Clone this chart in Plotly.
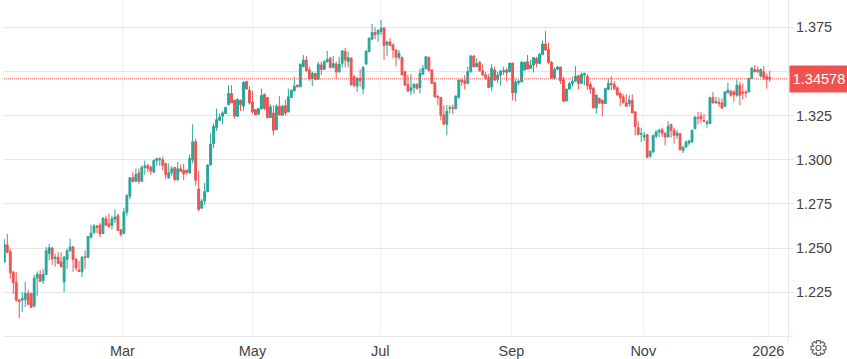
import math
import plotly.graph_objects as go

opens = [
1.2421,1.2519,1.2480,1.2364,1.2307,1.2206,1.2206,1.2210,1.2244,1.2244,
1.2174,1.2330,1.2351,1.2316,1.2351,1.2470,1.2502,1.2441,1.2449,1.2422,
1.2309,1.2436,1.2485,1.2507,1.2439,1.2377,1.2368,1.2451,1.2447,1.2561,
1.2587,1.2625,1.2630,1.2583,1.2666,1.2638,1.2629,1.2664,1.2684,1.2604,
1.2583,1.2703,1.2794,1.2899,1.2878,1.2926,1.2878,1.2957,1.2966,1.2958,
1.2930,1.2996,1.3000,1.3000,1.2979,1.2897,1.2926,1.2957,1.2888,1.2949,
1.2941,1.2941,1.2926,1.2998,1.3102,1.2835,1.2726,1.2767,1.2820,1.2971,
1.3091,1.3182,1.3223,1.3246,1.3261,1.3311,1.3375,1.3337,1.3246,1.3337,
1.3303,1.3443,1.3394,1.3326,1.3284,1.3258,1.3288,1.3371,1.3352,1.3239,
1.3265,1.3170,1.3303,1.3252,1.3307,1.3271,1.3352,1.3390,1.3422,1.3413,
1.3527,1.3564,1.3508,1.3460,1.3489,1.3455,1.3536,1.3511,1.3555,1.3574,
1.3523,1.3542,1.3498,1.3545,1.3612,1.3555,1.3576,1.3470,1.3417,1.3460,
1.3402,1.3542,1.3612,1.3682,1.3720,1.3712,1.3725,1.3746,1.3650,1.3667,
1.3650,1.3621,1.3580,1.3580,1.3498,1.3428,1.3390,1.3409,1.3428,1.3409,
1.3485,1.3515,1.3580,1.3508,1.3436,1.3360,1.3352,1.3254,1.3201,1.3292,
1.3295,1.3290,1.3352,1.3451,1.3447,1.3432,1.3498,1.3587,1.3527,1.3551,
1.3504,1.3479,1.3466,1.3413,1.3508,1.3455,1.3479,1.3498,1.3508,1.3498,
1.3547,1.3379,1.3436,1.3441,1.3508,1.3555,1.3517,1.3536,1.3574,1.3545,
1.3595,1.3655,1.3625,1.3551,1.3462,1.3511,1.3525,1.3451,1.3333,1.3400,
1.3432,1.3445,1.3475,1.3432,1.3479,1.3473,1.3426,1.3403,1.3294,1.3347,
1.3337,1.3318,1.3398,1.3432,1.3428,1.3407,1.3375,1.3356,1.3322,1.3318,
1.3337,1.3271,1.3182,1.3144,1.3129,1.3142,1.3021,1.3044,1.3133,1.3157,
1.3170,1.3148,1.3129,1.3199,1.3167,1.3138,1.3148,1.3053,1.3072,1.3095,
1.3100,1.3176,1.3239,1.3246,1.3223,1.3205,1.3205,1.3352,1.3322,1.3326,
1.3322,1.3303,1.3379,1.3388,1.3384,1.3365,1.3422,1.3384,1.3384,1.3384,
1.3460,1.3511,1.3508,1.3473,1.3498,1.3470,1.3466]

highs = [
1.2553,1.2581,1.2497,1.2371,1.2364,1.2214,1.2250,1.2309,1.2263,1.2246,
1.2349,1.2368,1.2377,1.2381,1.2507,1.2524,1.2503,1.2468,1.2479,1.2476,
1.2456,1.2497,1.2553,1.2513,1.2442,1.2428,1.2456,1.2487,1.2568,1.2632,
1.2638,1.2632,1.2642,1.2674,1.2684,1.2695,1.2684,1.2718,1.2695,1.2608,
1.2727,1.2804,1.2901,1.2930,1.2951,1.2949,1.2968,1.2996,1.2979,1.2968,
1.3002,1.3011,1.3013,1.3017,1.2981,1.2979,1.2964,1.2958,1.2987,1.2975,
1.2979,1.2945,1.3030,1.3200,1.3119,1.2938,1.2779,1.2869,1.2975,1.3150,
1.3205,1.3290,1.3261,1.3275,1.3297,1.3422,1.3422,1.3339,1.3348,1.3341,
1.3443,1.3447,1.3417,1.3390,1.3286,1.3292,1.3403,1.3375,1.3354,1.3314,
1.3309,1.3314,1.3360,1.3309,1.3341,1.3403,1.3398,1.3470,1.3428,1.3545,
1.3593,1.3587,1.3527,1.3498,1.3491,1.3555,1.3555,1.3564,1.3616,1.3583,
1.3587,1.3555,1.3583,1.3621,1.3633,1.3612,1.3578,1.3479,1.3470,1.3511,
1.3530,1.3621,1.3691,1.3769,1.3750,1.3739,1.3792,1.3750,1.3674,1.3688,
1.3659,1.3625,1.3621,1.3582,1.3502,1.3479,1.3485,1.3432,1.3432,1.3517,
1.3536,1.3587,1.3583,1.3511,1.3441,1.3365,1.3356,1.3309,1.3309,1.3309,
1.3313,1.3365,1.3455,1.3456,1.3479,1.3527,1.3593,1.3593,1.3574,1.3560,
1.3541,1.3498,1.3485,1.3541,1.3527,1.3498,1.3508,1.3527,1.3521,1.3549,
1.3549,1.3455,1.3455,1.3557,1.3555,1.3593,1.3564,1.3583,1.3583,1.3602,
1.3674,1.3729,1.3663,1.3559,1.3521,1.3530,1.3527,1.3470,1.3403,1.3441,
1.3470,1.3530,1.3479,1.3493,1.3493,1.3485,1.3441,1.3413,1.3371,1.3352,
1.3341,1.3407,1.3460,1.3473,1.3445,1.3417,1.3385,1.3371,1.3371,1.3365,
1.3371,1.3276,1.3218,1.3182,1.3157,1.3144,1.3053,1.3142,1.3170,1.3176,
1.3182,1.3157,1.3218,1.3205,1.3182,1.3167,1.3152,1.3072,1.3110,1.3114,
1.3170,1.3246,1.3271,1.3271,1.3258,1.3223,1.3356,1.3384,1.3356,1.3352,
1.3347,1.3386,1.3436,1.3394,1.3394,1.3455,1.3441,1.3432,1.3394,1.3466,
1.3523,1.3536,1.3527,1.3517,1.3530,1.3489,1.3504]

lows = [
1.2417,1.2476,1.2328,1.2241,1.2197,1.2104,1.2140,1.2167,1.2178,1.2163,
1.2163,1.2229,1.2309,1.2297,1.2349,1.2430,1.2405,1.2396,1.2411,1.2390,
1.2252,1.2383,1.2481,1.2366,1.2370,1.2366,1.2337,1.2383,1.2445,1.2553,
1.2581,1.2585,1.2562,1.2581,1.2627,1.2615,1.2604,1.2642,1.2598,1.2566,
1.2581,1.2684,1.2777,1.2871,1.2874,1.2865,1.2876,1.2916,1.2930,1.2916,
1.2928,1.2964,1.2964,1.2941,1.2892,1.2894,1.2911,1.2878,1.2878,1.2930,
1.2884,1.2916,1.2922,1.2979,1.2854,1.2712,1.2722,1.2746,1.2816,1.2968,
1.3066,1.3163,1.3220,1.3201,1.3259,1.3309,1.3322,1.3233,1.3244,1.3275,
1.3277,1.3398,1.3313,1.3261,1.3252,1.3256,1.3284,1.3280,1.3233,1.3237,
1.3138,1.3169,1.3252,1.3250,1.3250,1.3269,1.3351,1.3386,1.3409,1.3411,
1.3523,1.3500,1.3447,1.3417,1.3451,1.3451,1.3479,1.3508,1.3549,1.3517,
1.3517,1.3458,1.3492,1.3523,1.3523,1.3523,1.3420,1.3409,1.3384,1.3413,
1.3371,1.3536,1.3608,1.3678,1.3682,1.3669,1.3706,1.3564,1.3587,1.3644,
1.3574,1.3527,1.3564,1.3477,1.3420,1.3384,1.3365,1.3371,1.3398,1.3375,
1.3479,1.3511,1.3502,1.3428,1.3352,1.3309,1.3223,1.3199,1.3138,1.3261,
1.3258,1.3284,1.3347,1.3417,1.3398,1.3428,1.3493,1.3523,1.3523,1.3498,
1.3474,1.3451,1.3405,1.3390,1.3447,1.3432,1.3419,1.3479,1.3445,1.3494,
1.3337,1.3331,1.3422,1.3437,1.3504,1.3511,1.3513,1.3493,1.3523,1.3541,
1.3591,1.3619,1.3540,1.3458,1.3451,1.3508,1.3428,1.3326,1.3330,1.3398,
1.3413,1.3441,1.3400,1.3428,1.3422,1.3394,1.3375,1.3290,1.3261,1.3314,
1.3246,1.3314,1.3394,1.3394,1.3394,1.3364,1.3303,1.3318,1.3299,1.3299,
1.3263,1.3138,1.3138,1.3100,1.3106,1.3009,1.3009,1.3040,1.3123,1.3129,
1.3129,1.3081,1.3125,1.3125,1.3091,1.3119,1.3053,1.3038,1.3068,1.3081,
1.3097,1.3172,1.3201,1.3205,1.3214,1.3182,1.3201,1.3318,1.3318,1.3299,
1.3288,1.3301,1.3375,1.3356,1.3328,1.3356,1.3309,1.3341,1.3352,1.3381,
1.3456,1.3494,1.3489,1.3466,1.3451,1.3402,1.3441]

closes = [
1.2519,1.2476,1.2362,1.2305,1.2206,1.2197,1.2216,1.2244,1.2182,1.2165,
1.2330,1.2352,1.2311,1.2352,1.2485,1.2502,1.2439,1.2449,1.2413,1.2396,
1.2449,1.2485,1.2507,1.2436,1.2388,1.2368,1.2449,1.2447,1.2566,1.2585,
1.2625,1.2617,1.2581,1.2670,1.2629,1.2621,1.2666,1.2676,1.2600,1.2577,
1.2705,1.2798,1.2899,1.2878,1.2916,1.2878,1.2957,1.2966,1.2951,1.2936,
1.2996,1.3007,1.3006,1.2968,1.2916,1.2926,1.2949,1.2888,1.2949,1.2934,
1.2920,1.2928,1.3007,1.3102,1.2884,1.2718,1.2767,1.2820,1.2971,1.3089,
1.3189,1.3227,1.3242,1.3265,1.3297,1.3377,1.3322,1.3246,1.3341,1.3311,
1.3439,1.3400,1.3322,1.3271,1.3254,1.3290,1.3364,1.3290,1.3239,1.3299,
1.3167,1.3303,1.3254,1.3303,1.3265,1.3356,1.3394,1.3417,1.3413,1.3540,
1.3564,1.3504,1.3460,1.3489,1.3455,1.3540,1.3511,1.3555,1.3568,1.3523,
1.3545,1.3498,1.3542,1.3616,1.3564,1.3578,1.3424,1.3420,1.3460,1.3447,
1.3523,1.3614,1.3688,1.3720,1.3708,1.3731,1.3744,1.3646,1.3667,1.3646,
1.3621,1.3580,1.3602,1.3481,1.3422,1.3388,1.3407,1.3428,1.3403,1.3489,
1.3517,1.3583,1.3504,1.3432,1.3356,1.3352,1.3252,1.3201,1.3275,1.3295,
1.3290,1.3360,1.3451,1.3441,1.3432,1.3498,1.3587,1.3527,1.3545,1.3504,
1.3479,1.3466,1.3409,1.3517,1.3451,1.3479,1.3502,1.3504,1.3494,1.3547,
1.3379,1.3441,1.3445,1.3553,1.3551,1.3513,1.3536,1.3578,1.3545,1.3598,
1.3655,1.3621,1.3551,1.3462,1.3511,1.3525,1.3447,1.3331,1.3400,1.3432,
1.3445,1.3473,1.3432,1.3483,1.3489,1.3419,1.3400,1.3294,1.3365,1.3322,
1.3318,1.3403,1.3432,1.3426,1.3402,1.3367,1.3350,1.3322,1.3303,1.3337,
1.3265,1.3189,1.3144,1.3148,1.3138,1.3015,1.3047,1.3138,1.3157,1.3167,
1.3148,1.3129,1.3189,1.3167,1.3138,1.3152,1.3057,1.3072,1.3100,1.3106,
1.3167,1.3242,1.3235,1.3231,1.3218,1.3214,1.3352,1.3322,1.3328,1.3318,
1.3292,1.3384,1.3394,1.3365,1.3369,1.3422,1.3365,1.3379,1.3379,1.3460,
1.3519,1.3498,1.3498,1.3511,1.3466,1.3455,1.34578]

bar_index = list(range(len(closes)))
month_ticks = [39.5, 83, 125.7, 169.6, 213.7, 255.5]
month_labels = ["Mar", "May", "Jul", "Sep", "Nov", "2026"]
price_ticks = [1.225, 1.25, 1.275, 1.3, 1.325, 1.35, 1.375]
price_labels = ["1.225", "1.250", "1.275", "1.300", "1.325", "1.350", "1.375"]
last_price = closes[-1]

GREEN = "#26a69a"
RED = "#ef5350"
FONT = "Liberation Sans, Arial, sans-serif"

fig = go.Figure(go.Candlestick(
    x=bar_index, open=opens, high=highs, low=lows, close=closes,
    increasing=dict(line=dict(color=GREEN, width=1), fillcolor=GREEN),
    decreasing=dict(line=dict(color=RED, width=1), fillcolor=RED),
    whiskerwidth=0, showlegend=False,
))

W, H = 847, 359
L, R, T, B = 4, 59, 0, 23
PW, PH = W - L - R, H - T - B
cx, cy = 818.5, 348.0
pts = []
teeth = 8
for i in range(teeth):
    a0 = 2 * math.pi * i / teeth - math.pi / 2
    for da, rad in [(-0.40, 5.4), (-0.22, 7.6), (0.22, 7.6), (0.40, 5.4)]:
        a = a0 + da
        pts.append((cx + rad * math.cos(a), cy + rad * math.sin(a)))
def to_paper(px, py):
    return (px - L) / PW, (H - B - py) / PH
gear = "M " + " L ".join("%.5f %.5f" % to_paper(*p) for p in pts) + " Z"
hub = dict(type="circle", xref="paper", yref="paper",
           x0=to_paper(cx - 2.5, 0)[0], x1=to_paper(cx + 2.5, 0)[0],
           y0=to_paper(0, cy + 2.5)[1], y1=to_paper(0, cy - 2.5)[1],
           line=dict(color="#5f6368", width=1.2), fillcolor="rgba(0,0,0,0)")

AX = "#e6e6e6"
shapes = [
    dict(type="line", xref="paper", yref="y", x0=0, x1=1, y0=last_price, y1=last_price,
         line=dict(color=RED, width=1, dash="1px,1px"), layer="above"),
    dict(type="line", xref="paper", yref="paper", x0=1, x1=1 + 5 / PW, y0=0, y1=0,
         line=dict(color=AX, width=1), layer="below"),
    dict(type="line", xref="paper", yref="paper", x0=1, x1=1, y0=0, y1=-9 / PH,
         line=dict(color=AX, width=1), layer="below"),
    dict(type="path", xref="paper", yref="paper", path=gear,
         line=dict(color="#5f6368", width=1.2), fillcolor="rgba(0,0,0,0)"),
    hub,
]

annotations = [dict(
    xref="paper", yref="y", x=1, y=last_price, xanchor="left", yanchor="middle",
    xshift=1, yshift=-0.5, text=f"{last_price:.5f}", showarrow=False,
    width=58, height=26, bgcolor=RED, borderpad=0, align="center",
    font=dict(family=FONT, size=14.5, color="#ffffff"),
)]

fig.update_layout(
    width=W, height=H,
    margin=dict(l=L, r=R, t=T, b=B, pad=0),
    paper_bgcolor="#ffffff", plot_bgcolor="#ffffff",
    boxgap=0.12,
    font=dict(family=FONT, size=14.5, color="#434343"),
    shapes=shapes, annotations=annotations,
    xaxis=dict(
        range=[-0.1, 262.1], rangeslider=dict(visible=False),
        tickmode="array", tickvals=month_ticks, ticktext=month_labels,
        showgrid=True, gridcolor="#eef2f7", gridwidth=1, zeroline=False,
        showline=True, linecolor=AX, linewidth=1, ticks="", ticklabelstandoff=2,
        tickfont=dict(family=FONT, size=14.5, color="#434343"),
    ),
    yaxis=dict(
        range=[1.2003, 1.3904], side="right",
        tickmode="array", tickvals=price_ticks, ticktext=price_labels,
        showgrid=True, gridcolor=AX, gridwidth=1, zeroline=False,
        showline=True, linecolor=AX, linewidth=1, ticklabelstandoff=-1,
        ticks="outside", ticklen=5, tickcolor=AX, tickwidth=1,
        tickfont=dict(family=FONT, size=14.5, color="#434343"),
    ),
)

fig.write_html("out.html", config=dict(displayModeBar=False),
               post_script="document.body.style.margin='0';document.documentElement.style.overflow='hidden';")
